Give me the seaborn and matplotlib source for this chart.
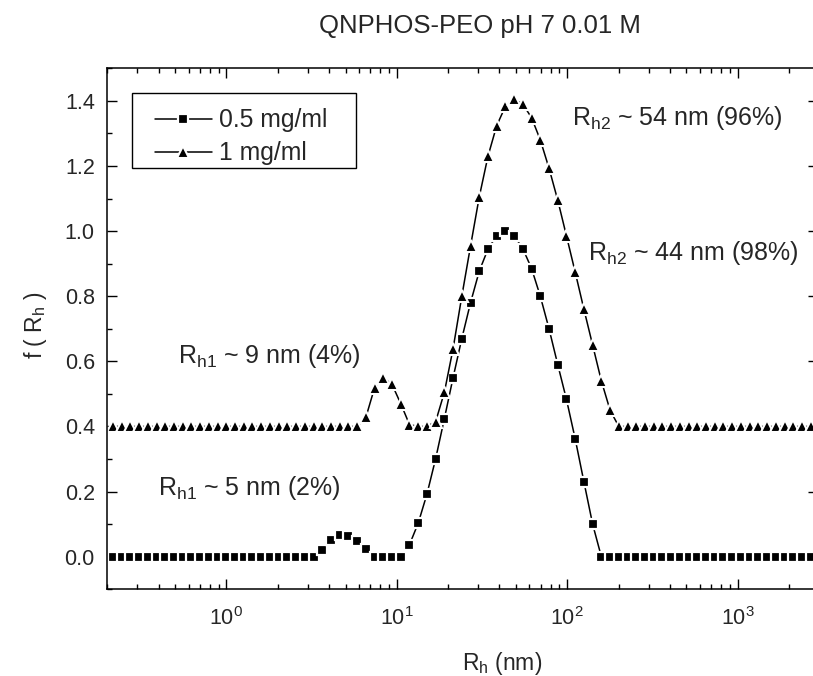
import matplotlib
matplotlib.use("Agg")
import matplotlib.pyplot as plt
import matplotlib.ticker as mticker
from matplotlib.patches import Rectangle
import numpy as np
import pandas as pd
import seaborn as sns

# Hydrodynamic radius grid (nm), log-spaced CONTIN output
r_h = [0.2158, 0.2428, 0.2732, 0.3073, 0.3458, 0.3890, 0.4377, 0.4924, 0.5540, 0.6233,
       0.7012, 0.7889, 0.8876, 0.9986, 1.1235, 1.2640, 1.4221, 1.5999, 1.8000, 2.0251,
       2.2784, 2.5634, 2.8840, 3.2447, 3.6505, 4.107, 4.621, 5.199, 5.849, 6.580,
       7.403, 8.329, 9.371, 10.543, 11.861, 13.345, 15.014, 16.892, 19.005, 21.382,
       24.056, 27.065, 30.450, 34.258, 38.543, 43.364, 48.787, 54.889, 61.754, 69.478,
       78.167, 87.944, 98.943, 111.32, 125.24, 140.90, 158.53, 178.35, 200.66, 225.76,
       253.99, 285.76, 321.50, 361.71, 406.95, 457.85, 515.11, 579.54, 652.02, 733.57,
       825.32, 928.54, 1044.7, 1175.3, 1322.3, 1487.7, 1673.8, 1883.1, 2118.6, 2383.6,
       2681.7]

# f(Rh) at 0.5 mg/ml
f_05 = [0, 0, 0, 0, 0, 0, 0, 0, 0, 0,
        0, 0, 0, 0, 0, 0, 0, 0, 0, 0,
        0, 0, 0, 0, 0.020, 0.050, 0.066, 0.064, 0.047, 0.025,
        0, 0, 0, 0, 0.037, 0.103, 0.192, 0.301, 0.424, 0.550,
        0.670, 0.780, 0.877, 0.945, 0.986, 1.000, 0.986, 0.946, 0.885, 0.800,
        0.700, 0.590, 0.483, 0.362, 0.230, 0.100, 0, 0, 0, 0,
        0, 0, 0, 0, 0, 0, 0, 0, 0, 0,
        0, 0, 0, 0, 0, 0, 0, 0, 0, 0,
        0]

# f(Rh) at 1 mg/ml (shifted up by 0.4)
f_1 = [0.4, 0.4, 0.4, 0.4, 0.4, 0.4, 0.4, 0.4, 0.4, 0.4,
       0.4, 0.4, 0.4, 0.4, 0.4, 0.4, 0.4, 0.4, 0.4, 0.4,
       0.4, 0.4, 0.4, 0.4, 0.4, 0.4, 0.4, 0.4, 0.4, 0.428,
       0.519, 0.550, 0.529, 0.470, 0.406, 0.4, 0.4, 0.415, 0.505, 0.639,
       0.800, 0.954, 1.105, 1.230, 1.324, 1.383, 1.405, 1.390, 1.348, 1.280,
       1.193, 1.095, 0.985, 0.874, 0.760, 0.650, 0.540, 0.450, 0.4, 0.4,
       0.4, 0.4, 0.4, 0.4, 0.4, 0.4, 0.4, 0.4, 0.4, 0.4,
       0.4, 0.4, 0.4, 0.4, 0.4, 0.4, 0.4, 0.4, 0.4, 0.4,
       0.4]

labels = ["0.5 mg/ml", "1 mg/ml"]
y_ticks = [0.0, 0.2, 0.4, 0.6, 0.8, 1.0, 1.2, 1.4]

sns.set_theme(style="ticks")
plt.rcParams["font.family"] = ["Liberation Sans", "DejaVu Sans"]
plt.rcParams["mathtext.fontset"] = "custom"
plt.rcParams["mathtext.rm"] = "Liberation Sans"
plt.rcParams["mathtext.it"] = "Liberation Sans:italic"
plt.rcParams["mathtext.bf"] = "Liberation Sans:bold"

W, H = 813, 676
fig = plt.figure(figsize=(W / 100, H / 100), dpi=100)
L, R, T, B = 107.3, 818.0, 68.3, 589.3
ax = fig.add_axes([L / W, 1 - B / H, (R - L) / W, (B - T) / H])

df = pd.DataFrame({"Rh": r_h * 2,
                   "f": f_05 + f_1,
                   "conc": [labels[0]] * len(r_h) + [labels[1]] * len(r_h)})

styles = {labels[0]: dict(marker="s", markersize=6.5, markeredgewidth=1.6),
          labels[1]: dict(marker="^", markersize=8.2, markeredgewidth=1.5)}
for lab in labels:
    sub = df[df["conc"] == lab]
    sns.lineplot(data=sub, x="Rh", y="f", ax=ax, color="black", linewidth=1.1,
                 markerfacecolor="black", markeredgecolor="white",
                 estimator=None, sort=True, label=lab, **styles[lab])

ax.set_xscale("log")
ax.set_xlim(0.2, 2960)
ax.set_ylim(-0.1, 1.5)
ax.set_yticks(y_ticks)
ax.yaxis.set_major_formatter(mticker.FormatStrFormatter("%.1f"))
ax.yaxis.set_minor_locator(mticker.MultipleLocator(0.1))
ax.xaxis.set_major_locator(mticker.LogLocator(base=10, numticks=20))
ax.xaxis.set_minor_locator(mticker.LogLocator(base=10, subs=np.arange(2, 10), numticks=20))
ax.xaxis.set_minor_formatter(mticker.NullFormatter())

ax.tick_params(which="both", direction="in", top=True, right=True, width=1.0,
               color="black", labelsize=15.5)
ax.tick_params(axis="y", pad=9)
ax.tick_params(axis="x", pad=13)
ax.tick_params(which="major", length=7)
ax.tick_params(which="minor", length=3.5)
for s in ax.spines.values():
    s.set_linewidth(1.1)
    s.set_color("black")
ax.set_xlabel("")
ax.set_ylabel("")

# legend: plain box plus frameless entries on top of it
ax.add_patch(Rectangle((131.7 / W, 1 - 168.3 / H), (355.7 - 131.7) / W, (168.3 - 92.7) / H,
                       transform=fig.transFigure, facecolor="white", edgecolor="black",
                       linewidth=1.0, zorder=4, clip_on=False))
leg = ax.legend(loc="upper left", bbox_to_anchor=(155 / W, 1 - 108.5 / H),
                bbox_transform=fig.transFigure, borderaxespad=0, borderpad=0,
                frameon=False, fontsize=17.8, handlelength=2.3, handletextpad=0.27,
                labelspacing=0.36)
leg.set_zorder(6)

def ftext(x, y, s, **kw):
    fig.text(x / W, 1 - y / H, s, **kw)

ftext(479.7, 33, "QNPHOS-PEO pH 7 0.01 M", ha="center", va="baseline", fontsize=18.5)
ftext(572, 125, r"R$_{\mathrm{h2}}$ ~ 54 nm (96%)", ha="left", va="baseline", fontsize=18)
ftext(588.3, 260, r"R$_{\mathrm{h2}}$ ~ 44 nm (98%)", ha="left", va="baseline", fontsize=18)
ftext(177.7, 363.3, r"R$_{\mathrm{h1}}$ ~ 9 nm (4%)", ha="left", va="baseline", fontsize=18)
ftext(158, 495, r"R$_{\mathrm{h1}}$ ~ 5 nm (2%)", ha="left", va="baseline", fontsize=18)
ftext(502, 670, r"R$_{\mathrm{h}}$ (nm)", ha="center", va="baseline", fontsize=16.5)
ftext(35, 325, r"f ( R$_{\mathrm{h}}$ )", ha="center", va="center", rotation=90, fontsize=16.5)

fig.savefig("out.png", dpi=100)
